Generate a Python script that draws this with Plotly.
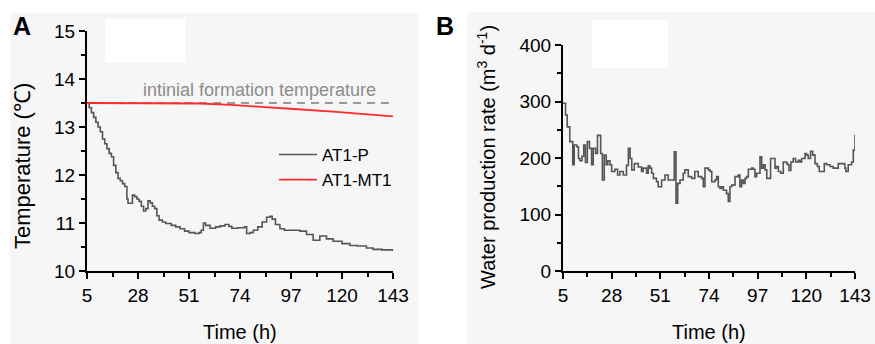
import plotly.graph_objects as go

# ---------------- data ----------------
x_ticks = [5, 28, 51, 74, 97, 120, 143]
temp_ticks = [10, 11, 12, 13, 14, 15]
rate_ticks = [0, 100, 200, 300, 400]

initial_temp = 13.5

t_p = [5, 6, 7, 8, 9, 10, 11, 12, 13, 14, 15, 16, 17, 18, 19, 20, 21, 22, 23, 23.5,
       24.5, 25.5, 26.5, 27.5, 28.5, 29.5, 30.5, 31.5, 32.5, 33.5, 34.5, 35.5, 36.5,
       37.5, 39, 40.5, 43, 45, 47, 49, 51, 53.7, 55.5, 56.5, 57.5, 58.5, 60.5, 63, 65,
       67.2, 69, 70.3, 73, 76, 77, 78.5, 80, 82, 84, 86, 87.5, 88.5, 90, 92, 94, 97,
       101, 104, 107, 110, 113, 116, 120, 123.6, 127, 131, 134, 138, 143]
temp_p = [13.5, 13.4, 13.3, 13.2, 13.1, 13.0, 12.9, 12.75, 12.65, 12.55, 12.45, 12.38,
          12.2, 12.05, 11.93, 11.88, 11.82, 11.76, 11.5, 11.41, 11.41, 11.58, 11.55,
          11.5, 11.45, 11.35, 11.25, 11.3, 11.46, 11.42, 11.35, 11.3, 11.15, 11.06,
          11.02, 10.99, 10.95, 10.92, 10.88, 10.83, 10.8, 10.78, 10.8, 10.85, 11.0,
          10.95, 10.89, 10.92, 10.94, 10.97, 10.93, 10.89, 10.9, 10.92, 10.78, 10.8,
          10.85, 10.92, 11.02, 11.12, 11.14, 11.08, 10.97, 10.88, 10.85, 10.85, 10.83,
          10.76, 10.64, 10.73, 10.67, 10.62, 10.57, 10.53, 10.52, 10.48, 10.45, 10.44,
          10.41]

t_mt = [5, 30, 56, 70, 86, 100, 116, 130, 143]
temp_mt = [13.5, 13.5, 13.49, 13.46, 13.42, 13.37, 13.32, 13.27, 13.22]

t_w = [5.0, 6.2, 7.0, 8.2, 9.6, 10.3, 11.5, 12.3, 13.0, 14.0, 14.8, 15.6, 16.5, 17.5,
       18.5, 19.3, 20.4, 21.3, 22.8, 23.6, 24.5, 25.4, 26.2, 27.2, 28.0, 29.5, 30.8,
       31.9, 33.5, 35.0, 35.9, 36.7, 37.5, 38.7, 40.0, 40.6, 42.1, 42.9, 44.5, 45.3,
       46.1, 46.9, 47.7, 49.2, 50.0, 51.6, 53.2, 54.7, 56.3, 57.6, 58.4, 59.2, 60.3,
       61.8, 62.6, 64.2, 65.8, 67.3, 68.9, 70.5, 71.3, 72.1, 73.7, 74.5, 75.3, 76.8,
       77.6, 78.4, 79.2, 80.0, 80.8, 82.3, 83.1, 83.9, 84.7, 86.3, 87.8, 88.6, 89.4,
       90.2, 91.0, 91.8, 92.6, 94.2, 95.0, 95.7, 96.5, 98.1, 98.9, 99.7, 100.5, 101.3,
       102.5, 103.1, 104.4, 105.2, 105.9, 106.8, 107.9, 109.1, 110.7, 111.2, 111.8,
       112.7, 113.8, 114.9, 116.2, 117.0, 117.8, 119.4, 120.1, 120.9, 122.0, 123.0,
       124.1, 125.2, 126.1, 127.2, 128.5, 129.6, 131.2, 132.7, 134.3, 135.1, 136.7,
       138.2, 138.7, 139.8, 141.4, 142.2, 143.0]
rate_w = [297, 276, 255, 229, 188, 223, 220, 199, 195, 203, 223, 192, 229, 217, 188,
          217, 208, 240, 208, 161, 205, 188, 195, 188, 176, 180, 170, 176, 170, 187,
          217, 199, 179, 190, 190, 184, 176, 182, 173, 186, 182, 173, 164, 158, 149,
          161, 170, 161, 161, 211, 120, 155, 161, 173, 179, 167, 164, 176, 167, 164,
          149, 182, 179, 176, 158, 161, 167, 149, 146, 149, 143, 137, 123, 149, 152,
          167, 170, 149, 161, 155, 164, 167, 180, 182, 180, 167, 173, 202, 182, 188,
          179, 164, 164, 199, 199, 182, 185, 176, 173, 193, 190, 188, 178, 193, 199,
          193, 196, 193, 199, 208, 205, 199, 212, 205, 190, 185, 176, 176, 190, 188,
          185, 182, 182, 190, 190, 182, 176, 188, 193, 214, 241]

# ---------------- figure ----------------
W, H = 875, 344
FONT = "Liberation Sans, Arial, sans-serif"

def px(x):
    return x / W

def py(y):
    return 1 - y / H

fig = go.Figure()

fig.add_trace(go.Scatter(x=[x_ticks[0], x_ticks[-1]], y=[initial_temp, initial_temp],
                         mode="lines", line=dict(color="#9a9a9a", width=2, dash="8px,6px"),
                         showlegend=False, xaxis="x", yaxis="y", hoverinfo="skip"))
fig.add_trace(go.Scatter(x=t_p, y=temp_p, mode="lines", name="AT1-P",
                         line=dict(color="#555555", width=1.6, shape="hv"),
                         xaxis="x", yaxis="y"))
fig.add_trace(go.Scatter(x=t_mt, y=temp_mt, mode="lines", name="AT1-MT1",
                         line=dict(color="#ff2a2a", width=1.8),
                         xaxis="x", yaxis="y"))
fig.add_trace(go.Scatter(x=t_w, y=rate_w, mode="lines", showlegend=False,
                         line=dict(color="#555555", width=1.6, shape="hv"),
                         xaxis="x2", yaxis="y2"))

axis_common = dict(showline=True, linecolor="black", linewidth=2, ticks="outside",
                   ticklen=6, tickwidth=2, tickcolor="black", showgrid=False,
                   zeroline=False, automargin=False,
                   tickfont=dict(family=FONT, size=19, color="black"))

def minor(t0, dt):
    return dict(ticks="outside", ticklen=4, tickwidth=1.5, tickcolor="black",
                tickmode="linear", tick0=t0, dtick=dt, showgrid=False)

fig.update_layout(
    width=W, height=H, autosize=False, margin=dict(l=0, r=0, t=0, b=0, pad=0),
    paper_bgcolor="white", plot_bgcolor="rgba(0,0,0,0)",
    font=dict(family=FONT, color="black"),
    xaxis=dict(domain=[px(87), px(393)], range=[5, 143], anchor="y",
               tickmode="array", tickvals=x_ticks, minor=minor(5, 11.5), **axis_common),
    yaxis=dict(domain=[py(271), py(31)], range=[10, 15], anchor="x",
               tickmode="array", tickvals=temp_ticks, minor=minor(10, 0.5), **axis_common),
    xaxis2=dict(domain=[px(563), px(855)], range=[5, 143], anchor="y2",
                tickmode="array", tickvals=x_ticks, minor=minor(5, 11.5), **axis_common),
    yaxis2=dict(domain=[py(271), py(45)], range=[0, 400], anchor="x2",
                tickmode="array", tickvals=rate_ticks, minor=minor(0, 50), **axis_common),
    legend=dict(x=px(274), y=py(137), xanchor="left", yanchor="top",
                bgcolor="rgba(0,0,0,0)", font=dict(family=FONT, size=17, color="black"),
                tracegroupgap=0, itemwidth=38),
    showlegend=True,
)

# panel backgrounds
shapes = [
    dict(type="rect", xref="paper", yref="paper", x0=px(10), x1=px(418), y0=0, y1=py(13),
         fillcolor="#f6f6f6", line=dict(width=0), layer="below"),
    dict(type="rect", xref="paper", yref="paper", x0=px(467), x1=1, y0=0, y1=py(12),
         fillcolor="#f6f6f6", line=dict(width=0), layer="below"),
    dict(type="rect", xref="paper", yref="paper", x0=px(105), x1=px(185), y0=py(63), y1=py(19),
         fillcolor="white", line=dict(width=0), layer="below"),
    dict(type="rect", xref="paper", yref="paper", x0=px(592), x1=px(668), y0=py(68), y1=py(20),
         fillcolor="white", line=dict(width=0), layer="below"),
]
fig.update_layout(shapes=shapes)

def anno(text, x, y, size, color="black", angle=0, xref="paper", yref="paper"):
    return dict(text=text, x=x, y=y, xref=xref, yref=yref, xanchor="center",
                yanchor="middle", textangle=angle, showarrow=False,
                font=dict(family=FONT, size=size, color=color))

annos = [
    anno("intinial formation temperature", 83, 13.77, 18, "#8c8c8c", xref="x", yref="y"),
    anno("Time (h)", px(240), py(332), 20),
    anno("Time (h)", px(709), py(332), 20),
    anno("Temperature (℃)", px(22), py(166), 22, angle=-90),
    anno("Water production rate (m<sup>3</sup> d<sup>-1</sup>)", px(487), py(157), 20, angle=-90),
    anno("<b>A</b>", px(22), py(26), 25),
    anno("<b>B</b>", px(445), py(26), 25),
]
fig.update_layout(annotations=annos)

fig.write_html("out.html", config={"displayModeBar": False},
               post_script="document.body.style.margin='0';")
